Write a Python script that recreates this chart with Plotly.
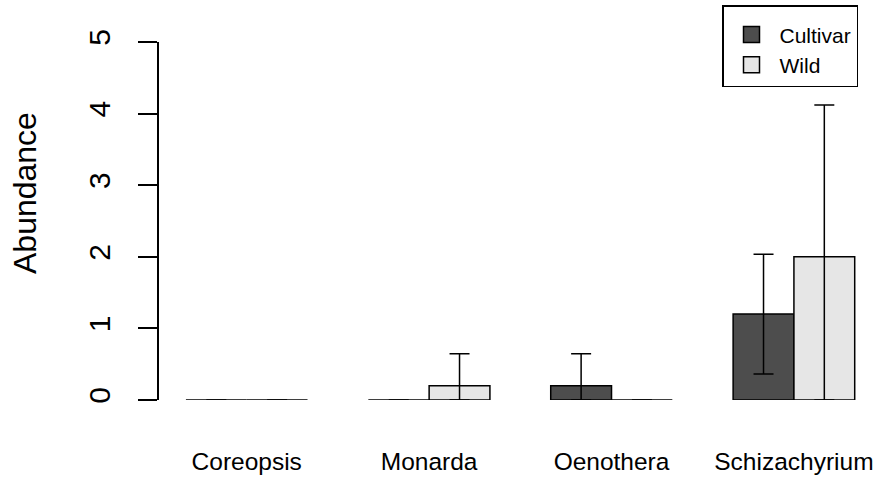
import plotly.graph_objects as go

# Mean abundance per plant genus, cultivar vs wild, with standard errors
genera = ["Coreopsis", "Monarda", "Oenothera", "Schizachyrium"]
cultivar_mean = [0.0, 0.0, 0.2, 1.2]
wild_mean = [0.0, 0.2, 0.0, 2.0]
cultivar_se = [0.0, 0.0, 0.447, 0.837]
wild_se = [0.0, 0.447, 0.0, 2.121]

FONT = "Liberation Sans, Arial, sans-serif"
DARK = "#4D4D4D"
LIGHT = "#E6E6E6"

W, H = 878, 482
L, R, T, B = 159, 0, 42, 82


def lower_err(mean, se):
    # error bars are not drawn below zero abundance
    return [min(m, s) for m, s in zip(mean, se)]


fig = go.Figure()
for name, mean, se, color in [
    ("Cultivar", cultivar_mean, cultivar_se, DARK),
    ("Wild", wild_mean, wild_se, LIGHT),
]:
    fig.add_trace(go.Bar(
        x=genera, y=mean, name=name, showlegend=False,
        marker=dict(color=color, line=dict(color="black", width=1.5)),
        error_y=dict(type="data", symmetric=False, array=se,
                     arrayminus=lower_err(mean, se),
                     color="black", thickness=1.5, width=10),
        cliponaxis=False,
    ))
    # legend key
    fig.add_trace(go.Scatter(
        x=[None], y=[None], mode="markers", name=name,
        marker=dict(symbol="square", size=16, color=color,
                    line=dict(color="black", width=1.5)),
    ))

# y-axis label, placed as rotated text left of the tick labels
fig.add_annotation(
    text="Abundance", textangle=-90, showarrow=False,
    xref="paper", yref="paper",
    x=(25 - L) / (W - L - R), y=(H - B - 193) / (H - T - B),
    xanchor="center", yanchor="middle",
    font=dict(size=32, family=FONT, color="black"),
)

fig.update_layout(
    width=W, height=H,
    margin=dict(l=L, r=R, t=T, b=B, autoexpand=False),
    paper_bgcolor="white", plot_bgcolor="white",
    font=dict(family=FONT, color="black"),
    barmode="group", bargap=1/3, bargroupgap=0,
    showlegend=True,
    legend=dict(
        x=722 / W, y=1 - 5 / H, xref="container", yref="container",
        xanchor="left", yanchor="top",
        bordercolor="black", borderwidth=1.5, bgcolor="white",
        font=dict(size=21, family=FONT),
        itemwidth=46, itemsizing="trace",
        title=dict(text=" ", font=dict(size=6)),
    ),
)
fig.update_xaxes(
    type="category", range=[-0.481, 3.461],
    showline=False, showgrid=False, zeroline=False,
    ticks="outside", ticklen=40, tickcolor="rgba(0,0,0,0)",
    tickfont=dict(size=24.5, family=FONT),
)
fig.update_yaxes(
    range=[0, 5], tickvals=[0, 1, 2, 3, 4, 5],
    showline=True, linecolor="black", linewidth=1.5,
    showgrid=False, zeroline=False,
    ticks="outside", ticklen=19, tickwidth=1.5, tickcolor="black",
    tickangle=-90, tickfont=dict(size=30, family=FONT),
    ticklabelstandoff=16,
)

fig.write_html("out.html")
